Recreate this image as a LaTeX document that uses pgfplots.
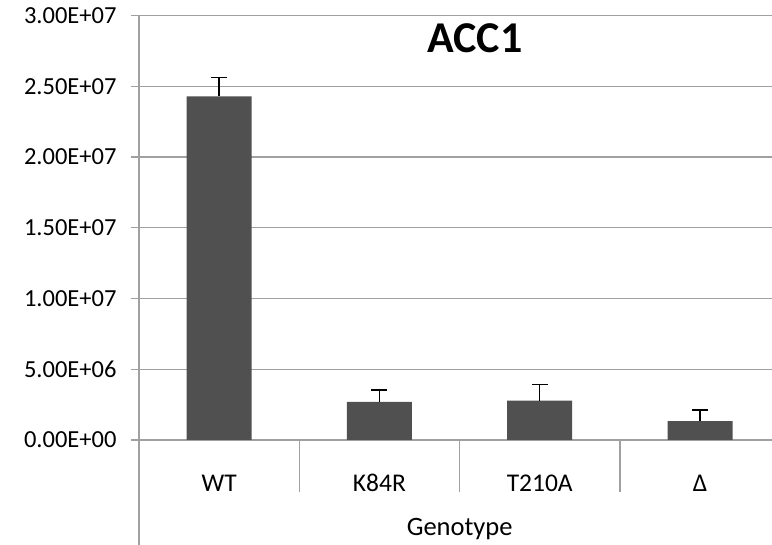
\documentclass[border=0pt]{standalone}
\usepackage{pgfplots}
\pgfplotsset{compat=1.18}
\usepackage{fontspec}
\setmainfont{Carlito}
\definecolor{barfill}{RGB}{80,80,80}
\definecolor{gridc}{RGB}{160,160,160}
\begin{document}
\begin{tikzpicture}[x=1pt,y=1pt]
\useasboundingbox (0,0) rectangle (772,545);
\begin{axis}[
  at={(139pt,105pt)}, anchor=south west,
  scale only axis,
  width=633pt, height=424.3pt,
  xmin=-0.5, xmax=3.449,
  ymin=0, ymax=3e7,
  axis line style={draw=none},
  ytick={0,5e6,1e7,1.5e7,2e7,2.5e7,3e7},
  yticklabels={0.00E+00,5.00E+06,1.00E+07,1.50E+07,2.00E+07,2.50E+07,3.00E+07},
  ymajorgrids,
  grid style={gridc, line width=1.3pt},
  y tick style={gridc, line width=1.3pt},
  tick align=outside,
  major tick length=8pt,
  yticklabel style={anchor=east, font=\fontsize{24.5}{28}\selectfont, xshift=-11pt},
  xtick={0,1,2,3},
  xticklabels={WT,K84R,T210A,Δ},
  x tick style={draw=none},
  xticklabel style={anchor=base, font=\fontsize{25.5}{28}\selectfont, yshift=-43.5pt},
  scaled y ticks=false,
  clip=false,
]
\addplot[ybar, bar width=65pt, fill=barfill, draw=none,
  error bars/.cd, y dir=plus, y explicit,
  error bar style={black, line width=1.3pt},
  error mark options={rotate=90, mark size=8pt, line width=1.3pt, black}]
  coordinates {
  (0,2.43e7) +- (0,1.34e6)
  (1,2.70e6) +- (0,0.83e6)
  (2,2.78e6) +- (0,1.13e6)
  (3,1.34e6) +- (0,0.78e6)
  };
\end{axis}
\draw[gridc, line width=1.3pt] (299.3,105) -- (299.3,53);
\draw[gridc, line width=1.3pt] (459.6,105) -- (459.6,53);
\draw[gridc, line width=1.3pt] (619.9,105) -- (619.9,53);
\draw[gridc, line width=1.3pt] (139,529.3) -- (139,0);
\node[anchor=base, font=\fontsize{44}{50}\selectfont\bfseries] at (475,492) {ACC1};
\node[anchor=base, font=\fontsize{26.5}{30}\selectfont] at (459.7,9.3) {Genotype};
\end{tikzpicture}
\end{document}
